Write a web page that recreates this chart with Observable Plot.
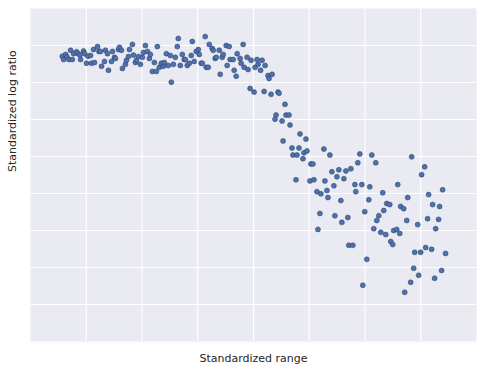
<!DOCTYPE html>
<html>
<head>
<meta charset="utf-8">
<script src="https://cdn.jsdelivr.net/npm/d3@7"></script>
<script src="https://cdn.jsdelivr.net/npm/@observablehq/plot@0.6"></script>
<style>
  html, body { margin: 0; padding: 0; background: #fff; }
  #chart svg { display: block; }
</style>
</head>
<body>
<div id="chart"></div>
<script>
const xLabel = "Standardized range";
const yLabel = "Standardized log ratio";
const xTicks = [-3, -2, -1, 0, 1, 2, 3];
const yTicks = [-4, -3, -2, -1, 0, 1, 2, 3];

const rangeValues = [
-3.429,-3.406,-3.370,-3.345,-3.309,-3.281,-3.250,-3.227,-3.174,-3.143,-3.113,-3.102,-3.048,-3.030,-2.995,-2.970,-2.923,-2.905,-2.869,-2.852,
-2.798,-2.773,-2.744,-2.726,-2.673,-2.655,-2.619,-2.601,-2.547,-2.530,-2.494,-2.476,-2.422,-2.404,-2.369,-2.351,-2.297,-2.279,-2.243,-2.225,
-2.172,-2.154,-2.118,-2.100,-2.064,-2.029,-1.993,-1.975,-1.939,-1.903,-1.868,-1.850,-1.814,-1.778,-1.742,-1.725,-1.689,-1.653,-1.617,-1.599,
-1.564,-1.528,-1.492,-1.474,-1.438,-1.403,-1.367,-1.349,-1.313,-1.277,-1.242,-1.224,-1.188,-1.152,-1.116,-1.098,-1.063,-1.027,-0.991,-0.973,
-0.937,-0.919,-0.866,-0.848,-0.812,-0.794,-0.741,-0.723,-0.687,-0.669,-0.615,-0.597,-0.562,-0.544,-0.490,-0.472,-0.436,-0.419,-0.365,-0.347,
-0.311,-0.293,-0.240,-0.222,-0.186,-0.168,-0.114,-0.097,-0.061,-0.043,0.011,0.029,0.064,0.082,0.127,0.154,0.208,0.261,0.279,0.333,
0.190,0.315,0.440,0.458,0.565,0.404,0.386,0.583,0.637,0.512,0.655,0.834,0.941,0.530,0.691,0.816,0.708,0.780,0.905,0.959,
0.887,1.030,1.066,1.263,1.370,1.907,2.122,1.871,2.193,2.837,3.070,3.016,1.406,1.531,1.657,1.746,1.496,1.621,0.762,1.013,
1.084,1.281,1.442,1.818,1.943,2.086,1.835,1.138,1.209,1.317,1.335,1.567,2.318,2.587,2.766,3.141,3.392,2.068,2.390,2.444,
2.640,2.694,3.213,3.338,1.191,1.460,1.692,1.585,1.996,2.336,2.247,2.211,2.748,3.123,3.320,2.945,1.156,2.157,2.283,2.372,
2.515,2.569,2.623,3.267,1.710,1.782,2.462,2.497,2.891,2.998,3.088,3.195,3.445,2.032,2.873,3.374,2.962,3.249,2.819,1.961,
2.712
];

const logRatioValues = [
2.71,2.62,2.76,2.69,2.62,2.87,2.62,2.78,2.83,2.78,2.74,2.62,2.85,2.78,2.52,2.71,2.73,2.52,2.89,2.54,
2.97,2.84,2.84,2.44,2.57,2.87,2.78,2.33,2.57,2.84,2.68,2.65,2.89,2.95,2.87,2.38,2.49,2.60,2.70,2.89,
3.03,2.74,2.54,2.60,2.70,2.49,2.68,2.81,3.00,2.84,2.65,2.76,2.30,2.54,2.30,2.97,2.41,2.52,2.44,2.54,
2.78,2.46,2.73,2.01,2.49,2.68,2.97,3.19,2.46,2.76,2.62,2.62,2.46,2.52,2.73,3.11,2.57,2.84,2.89,2.76,
2.52,2.52,3.24,2.41,2.41,3.03,2.92,2.87,2.65,2.68,2.87,2.22,2.68,2.76,3.00,2.46,2.97,2.62,2.62,2.33,
2.17,2.78,2.65,2.52,3.03,2.41,2.68,2.35,1.84,2.60,1.74,2.41,2.62,2.49,2.33,2.60,2.46,2.19,2.11,2.22,
1.76,1.68,1.74,1.71,1.41,1.12,1.01,1.12,1.12,0.96,0.85,0.61,0.47,0.42,0.23,0.23,0.04,0.04,0.10,0.15,
-0.06,-0.20,-0.20,0.20,0.04,0.07,0.04,-0.17,-0.17,-0.01,-0.28,-0.49,-0.41,-0.36,-0.39,-0.33,-0.55,-0.60,-0.63,-0.66,
-0.63,-0.66,-0.79,-0.76,-0.76,-0.82,-0.95,-0.95,-1.01,-0.92,-1.11,-1.19,-0.98,-0.76,-1.11,-1.03,-0.90,-1.17,-1.27,-1.30,
-1.35,-1.41,-1.30,-1.35,-1.54,-1.60,-1.65,-1.78,-1.49,-1.46,-1.60,-1.73,-1.73,-1.68,-1.70,-1.84,-1.97,-1.95,-2.05,-2.11,
-2.00,-1.97,-2.08,-1.95,-2.40,-2.40,-2.30,-2.38,-2.59,-2.59,-2.46,-2.51,-2.62,-2.78,-3.02,-3.08,-3.21,-3.29,-3.40,-3.48,
-3.67
];

const points = rangeValues.map((x, i) => ({x, y: logRatioValues[i]}));

const chart = Plot.plot({
  width: 482,
  height: 371,
  marginLeft: 30,
  marginRight: 6,
  marginTop: 8,
  marginBottom: 30,
  style: {fontFamily: "DejaVu Sans", fontSize: "11px", color: "#262626", background: "#fff"},
  x: {domain: [-4, 4], axis: null},
  y: {domain: [-5, 4], axis: null},
  marks: [
    Plot.frame({fill: "#EAEAF2", stroke: null}),
    Plot.gridX(xTicks, {stroke: "#fff", strokeOpacity: 1, strokeWidth: 1.1}),
    Plot.gridY(yTicks, {stroke: "#fff", strokeOpacity: 1, strokeWidth: 1.1}),
    Plot.dot(points, {x: "x", y: "y", r: 2.5, fill: "#4C72B0", stroke: "#2b3d5e", strokeWidth: 0.5}),
    Plot.text([xLabel], {frameAnchor: "bottom", dy: 20, text: d => d, fontSize: 11, fill: "#262626"}),
    Plot.text([yLabel], {frameAnchor: "left", dx: -18, dy: -3, rotate: -90, text: d => d, fontSize: 11, fill: "#262626"})
  ]
});
document.getElementById("chart").appendChild(chart);
</script>
</body>
</html>
